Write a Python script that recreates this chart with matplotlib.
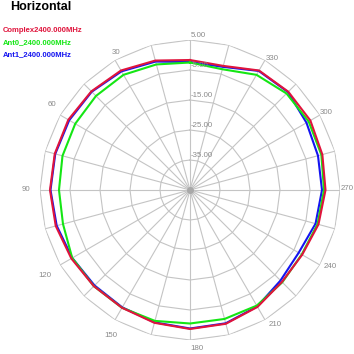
# Diagrama polar de radiación (plano horizontal)
import numpy as np
import matplotlib
matplotlib.use('Agg')
import matplotlib.pyplot as plt

# Ángulos en grados, cada 15
angulos = [0, 15, 30, 45, 60, 75, 90, 105, 120, 135, 150, 165,
           180, 195, 210, 225, 240, 255, 270, 285, 300, 315, 330, 345]

# Ganancia en dB
complex_db = [-1.67, -0.33, 1.0, 1.5, 1.83, 1.67, 1.67, 1.33, 0.67, 0.33, 0.33, 0.83,
              1.33, 1.17, 0.0, -1.67, -1.83, -0.67, 0.17, 0.67, 1.33, 1.33, 1.0, -2.17]
ant0_db = [-2.5, -1.67, -0.67, -0.67, -0.83, -1.0, -1.33, -1.17, 0.33, 0.33, 0.33, 0.17,
           -0.5, -0.5, -0.5, -1.5, -2.0, -1.0, -0.33, 0.33, 0.67, 0.5, -0.67, -3.33]
ant1_db = [-2.33, -0.67, 0.67, 1.33, 1.5, 1.5, 1.5, 1.0, 0.33, 0.0, 0.17, 0.67,
           1.17, 1.0, -0.17, -2.33, -3.17, -1.67, -1.0, -0.83, -0.17, 1.17, 0.83, -2.5]

series = ['Complex2400.000MHz', 'Ant0_2400.000MHz', 'Ant1_2400.000MHz']
anillos = [5, -5, -15, -25, -35]
etiquetas_angulo = [30, 60, 90, 120, 150, 180, 210, 240, 270, 300, 330]
titulo = 'Horizontal'

r_min, r_max = -45, 5
color_grid = '#c4c4c4'
colores = {'Complex2400.000MHz': '#e0143c',
           'Ant0_2400.000MHz': '#14e614',
           'Ant1_2400.000MHz': '#1414f0'}


def cerrar(valores):
    return list(valores) + [valores[0]]


fig = plt.figure(figsize=(3.54, 3.54), dpi=100)
ax = fig.add_axes([40 / 354, 14 / 354, 300 / 354, 300 / 354], projection='polar')
ax.set_theta_zero_location('N')
ax.set_theta_direction(1)
ax.set_ylim(r_min, r_max)
ax.grid(False)
ax.set_xticks([])
ax.set_yticks([])
ax.spines['polar'].set_visible(False)

# Rejilla poligonal
theta_grid = np.deg2rad(cerrar(angulos))
for r in anillos:
    ax.plot(theta_grid, [r] * len(theta_grid), color=color_grid, lw=0.8, zorder=1)
for a in angulos:
    t = np.deg2rad(a)
    ax.plot([t, t], [r_min, r_max], color=color_grid, lw=0.8, zorder=1)
ax.plot([0], [r_min], 'o', color='#a8a8a8', ms=4, zorder=1)

# Etiquetas de los anillos (encima de las curvas)
for r in anillos:
    ax.annotate(f'{r:.2f}', xy=(0, r), xytext=(1, 1), textcoords='offset pixels',
                ha='left', va='bottom', fontsize=5.7, color='#8a8a8a',
                family='Liberation Sans', zorder=10)

# Etiquetas de ángulo (desplazamiento en píxeles desde el extremo del radio)
desplaz = {30: (1, 8), 60: (-8, 10), 90: (-14, 0), 120: (-15, -11), 150: (-4, -16),
           180: (7, -9), 210: (10, -5), 240: (10, -1), 270: (7, 2), 300: (6, 2),
           330: (7, 2)}
for a in etiquetas_angulo:
    ax.annotate(str(a), xy=(np.deg2rad(a), r_max), xytext=desplaz[a],
                textcoords='offset pixels', ha='center', va='center',
                fontsize=5.7, color='#8a8a8a', family='Liberation Sans')

# Curvas
datos = {'Complex2400.000MHz': complex_db, 'Ant0_2400.000MHz': ant0_db,
         'Ant1_2400.000MHz': ant1_db}
orden = ['Ant1_2400.000MHz', 'Ant0_2400.000MHz', 'Complex2400.000MHz']
for i, nombre in enumerate(orden):
    ax.plot(theta_grid, cerrar(datos[nombre]), color=colores[nombre], lw=1.5,
            zorder=3 + i)

# Título y leyenda
fig.text(10 / 354, 1 - 1 / 354, titulo, ha='left', va='top', fontsize=9,
         fontweight='bold', family='Liberation Sans')
for i, nombre in enumerate(series):
    fig.text(3 / 354, 1 - (27 + 12 * i) / 354, nombre, ha='left', va='top',
             fontsize=5.5, fontweight='bold', color=colores[nombre],
             family='Liberation Sans')

fig.savefig('out.png', dpi=100)
